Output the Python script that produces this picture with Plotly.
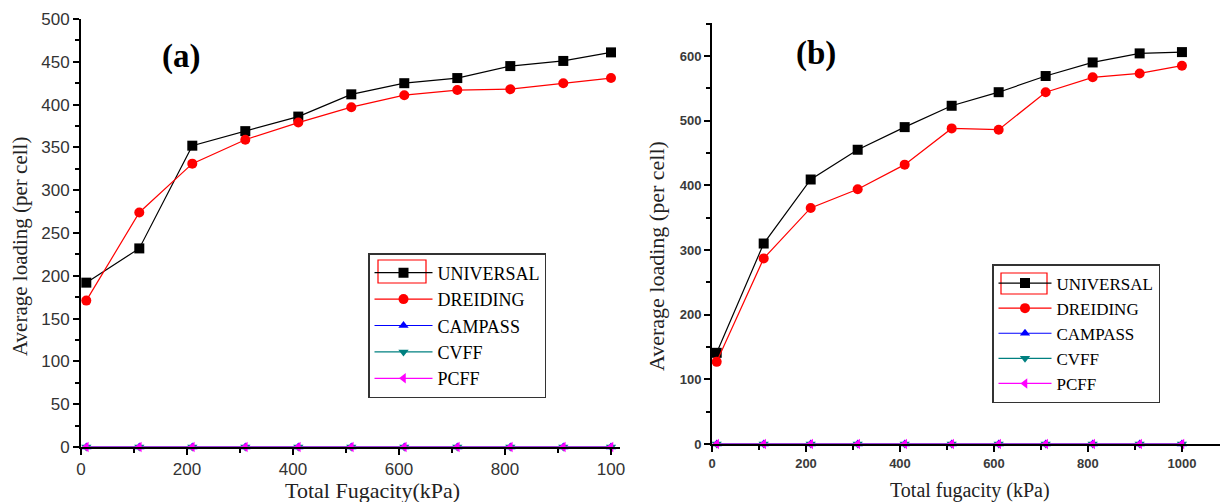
import plotly.graph_objects as go

# page body has an 8px margin; figure is sized/placed to fill the 1228x502 view
OFF = 8
W, H = 1228 - OFF, 502 - OFF

fugacity = [10, 110, 210, 310, 410, 510, 610, 710, 810, 910, 1000]

a_universal = [192, 232, 352, 369, 386, 412, 425, 431, 445, 451, 461]
a_dreiding = [171, 274, 331, 359, 379, 397, 411, 417, 418, 425, 431]
b_universal = [141, 310, 409, 455, 490, 523, 544, 569, 590, 604, 606]
b_dreiding = [127, 287, 365, 394, 432, 488, 486, 544, 567, 573, 585]
zeros = [0] * 11

series_names = ["UNIVERSAL", "DREIDING", "CAMPASS", "CVFF", "PCFF"]
series_colors = ["#000000", "#ff0000", "#0000ff", "#008080", "#ff00ff"]
series_symbols = ["square", "circle", "triangle-up", "triangle-down", "triangle-left"]

a_tickvals = [0, 200, 400, 600, 800, 1000]
a_ticktext = ["0", "200", "400", "600", "800", "100"]

SERIF = "Liberation Serif, Times New Roman, serif"
SANS = "Liberation Sans, Arial, sans-serif"

fig = go.Figure()

panels = [
    ("x", "y", "legend", [a_universal, a_dreiding, zeros, zeros, zeros]),
    ("x2", "y2", "legend2", [b_universal, b_dreiding, zeros, zeros, zeros]),
]
for xa, ya, lg, data in panels:
    for name, col, sym, vals in zip(series_names, series_colors, series_symbols, data):
        big = name in ("UNIVERSAL", "DREIDING")
        fig.add_trace(go.Scatter(
            x=fugacity, y=vals, name=name, mode="lines+markers",
            xaxis=xa, yaxis=ya, legend=lg, cliponaxis=False,
            line=dict(color=col, width=1.2),
            marker=dict(symbol=sym, color=col, size=10 if big else 9),
        ))

def px_x(p):
    return (p - OFF) / W

def px_y(p):
    return 1 - (p - OFF) / H

axis_common = dict(
    showline=True, linecolor="black", linewidth=2, mirror=False,
    ticks="outside", ticklen=6, tickwidth=2, tickcolor="black",
    showgrid=False, zeroline=False, automargin=False,
)

fig.update_layout(
    width=W, height=H,
    margin=dict(l=0, r=0, t=0, b=0, autoexpand=False),
    paper_bgcolor="white", plot_bgcolor="white",
    showlegend=True,
    xaxis=dict(
        domain=[px_x(81), px_x(620)], range=[0, 1017], anchor="y",
        tickmode="array", tickvals=a_tickvals, ticktext=a_ticktext,
        tickfont=dict(family=SANS, size=17, color="#333333"),
        minor=dict(ticks="outside", ticklen=4, tickwidth=2, tickcolor="black", dtick=100, tick0=0),
        **axis_common,
    ),
    yaxis=dict(
        domain=[px_y(447), px_y(19)], range=[0, 500], anchor="x",
        dtick=50, tick0=0,
        tickfont=dict(family=SANS, size=17, color="#333333"),
        minor=dict(ticks="outside", ticklen=4, tickwidth=2, tickcolor="black", dtick=25, tick0=0),
        **axis_common,
    ),
    xaxis2=dict(
        domain=[px_x(712), 1.0], range=[0, 1098], anchor="y2",
        dtick=200, tick0=0,
        tickfont=dict(family=SANS, size=13, color="#3a3a3a", weight="bold"),
        minor=dict(ticks="outside", ticklen=4, tickwidth=2, tickcolor="black", dtick=100, tick0=0),
        **axis_common,
    ),
    yaxis2=dict(
        domain=[px_y(444), px_y(23)], range=[0, 651], anchor="x2",
        dtick=100, tick0=0,
        tickfont=dict(family=SANS, size=13, color="#3a3a3a", weight="bold"),
        minor=dict(ticks="outside", ticklen=4, tickwidth=2, tickcolor="black", dtick=50, tick0=0),
        **axis_common,
    ),
    legend=dict(
        x=px_x(368), y=px_y(253), xanchor="left", yanchor="top",
        bgcolor="rgba(255,255,255,0)", bordercolor="#333333", borderwidth=1.5,
        font=dict(family=SERIF, size=18, color="black"),
        tracegroupgap=0, itemwidth=58,
    ),
    legend2=dict(
        x=px_x(992), y=px_y(264), xanchor="left", yanchor="top",
        bgcolor="rgba(255,255,255,0)", bordercolor="#333333", borderwidth=1.5,
        font=dict(family=SERIF, size=17, color="black"),
        tracegroupgap=0, itemwidth=53,
    ),
)

annotations = [
    dict(text="<b>(a)</b>", x=px_x(181), y=px_y(57), font=dict(family=SERIF, size=33, color="black")),
    dict(text="<b>(b)</b>", x=px_x(816), y=px_y(54), font=dict(family=SERIF, size=33, color="black")),
    dict(text="Average loading (per cell)", x=px_x(20), y=px_y(247), textangle=-90,
         font=dict(family=SERIF, size=21, color="#222222")),
    dict(text="Average loading (per cell)", x=px_x(657), y=px_y(256), textangle=-90,
         font=dict(family=SERIF, size=22, color="#222222")),
    dict(text="Total Fugacity(kPa)", x=px_x(372), y=px_y(490),
         font=dict(family=SERIF, size=22, color="#222222")),
    dict(text="Total fugacity (kPa)", x=px_x(970), y=px_y(490),
         font=dict(family=SERIF, size=20, color="#222222")),
]
for an in annotations:
    an.update(xref="paper", yref="paper", showarrow=False, xanchor="center", yanchor="middle")
    fig.add_annotation(**an)

# red highlight frame around the first legend symbol (as in the source figure)
for x0, x1, y0, y1 in [(378, 426, 260, 283), (1001, 1047, 273, 294)]:
    fig.add_shape(type="rect", xref="paper", yref="paper", layer="above",
                  x0=px_x(x0), x1=px_x(x1), y0=px_y(y1), y1=px_y(y0),
                  line=dict(color="red", width=1.2), fillcolor="rgba(0,0,0,0)")

fig.write_html("out.html")
